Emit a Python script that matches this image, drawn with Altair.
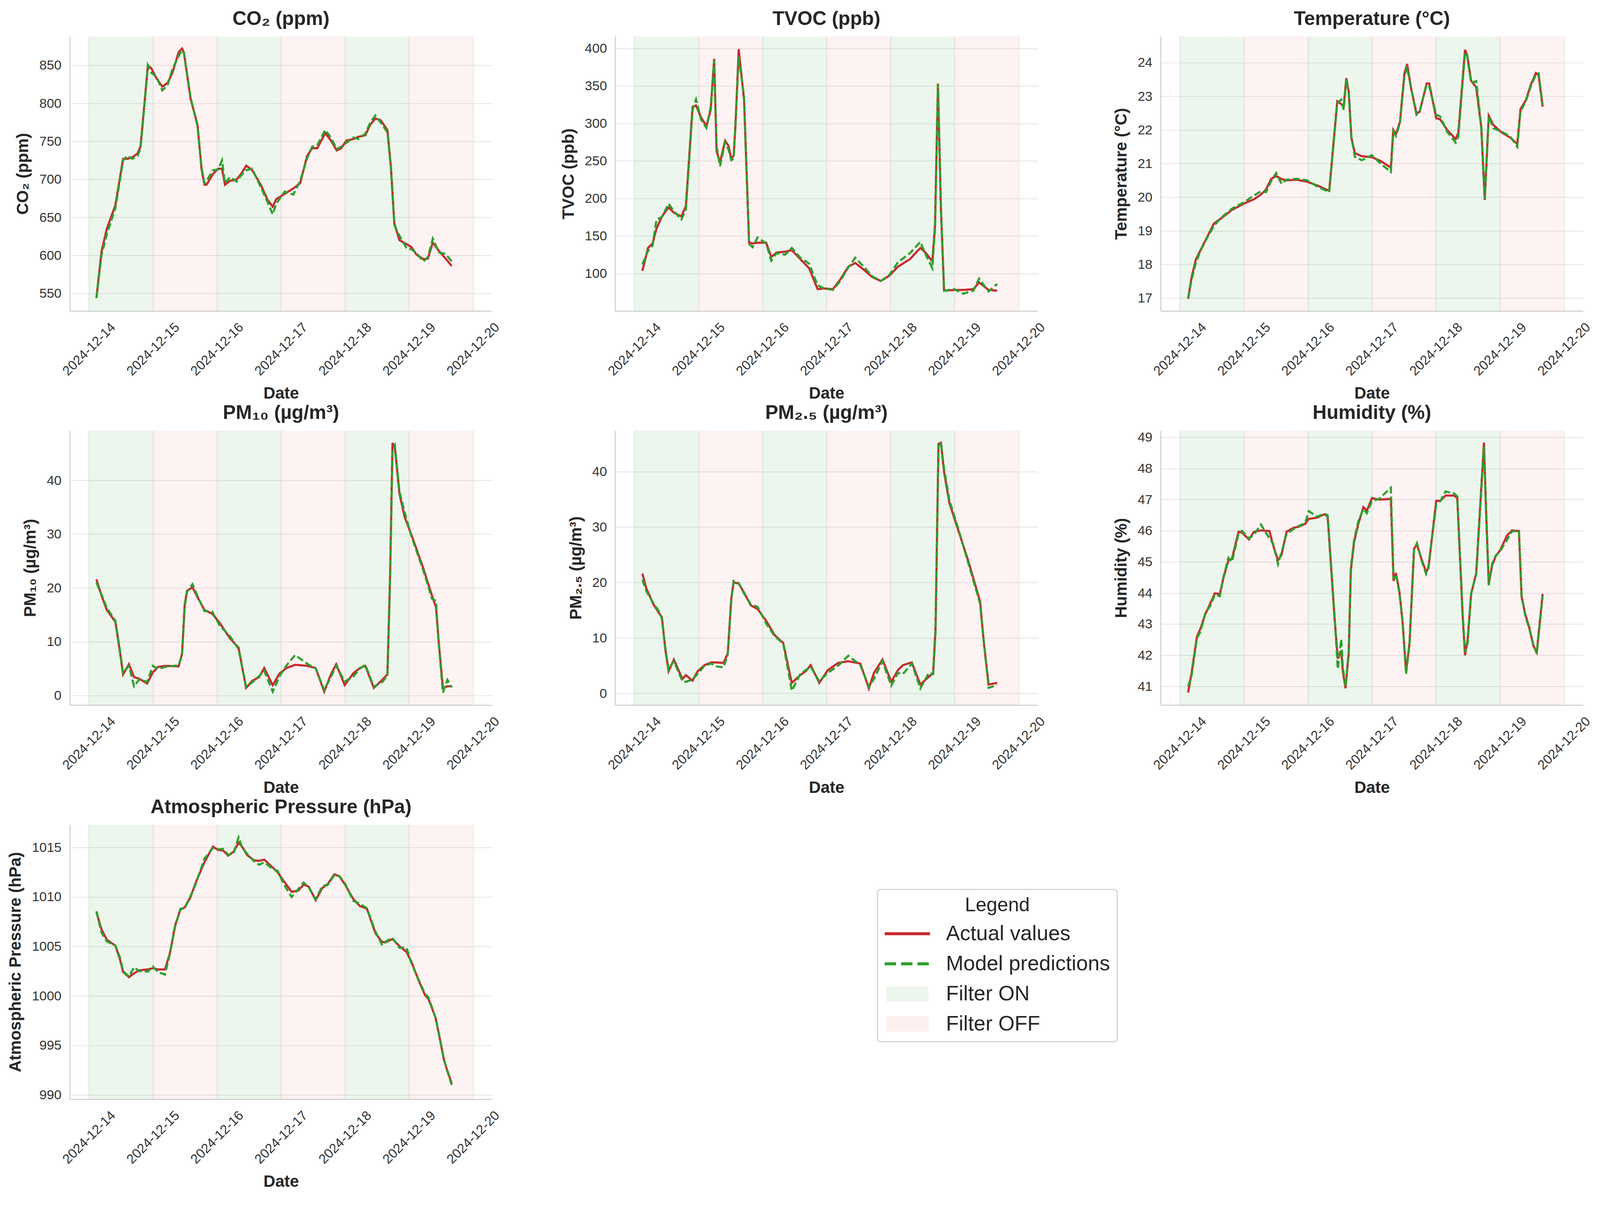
import altair as alt
import pandas as pd

START = pd.Timestamp("2024-12-14 00:00")

# hours after 2024-12-14 00:00, actual values, model predictions
CO2_H = [2.8, 4.7, 6.7, 9.9, 12.8, 14.4, 16.3, 18.2, 19.3, 20.1, 22.1, 23.4, 25.3, 27.5, 29.5, 31.3,
         33.6, 34.9, 35.6, 38.1, 40.7, 42.2, 43.3, 44.1, 46.5, 48.4, 49.9, 51.0, 52.9, 55.4, 57.0, 59.0,
         61.2, 64.4, 67.0, 68.9, 70.2, 73.4, 76.6, 79.2, 81.8, 83.7, 85.6, 88.6, 90.7, 92.9, 94.6, 96.5,
         99.1, 101.0, 103.6, 105.5, 107.4, 109.3, 111.9, 113.2, 114.5, 116.4, 119.0, 120.9, 122.8, 125.4,
         127.1, 128.9, 131.2, 133.7, 136.0]
CO2_ACTUAL = [544, 605, 635, 666, 727, 727, 729, 734, 743, 772, 850, 846, 833, 822, 827, 840,
              867, 872, 867, 806, 772, 714, 693, 693, 707, 714, 714, 693, 698, 700, 707, 718,
              712, 693, 673, 664, 674, 681, 688, 695, 731, 741, 741, 761, 751, 738, 741, 751,
              753, 756, 758, 772, 780, 778, 765, 717, 642, 620, 615, 611, 601, 595,
              596, 617, 606, 596, 586]
CO2_PRED = [544, 600, 628, 662, 725, 731, 727, 731, 740, 770, 850, 840, 835, 817, 824, 845,
            862, 870, 866, 808, 770, 716, 695, 698, 712, 713, 725, 695, 703, 697, 705, 712,
            714, 690, 670, 654, 668, 684, 680, 698, 728, 743, 745, 765, 755, 740, 743, 748,
            755, 753, 760, 775, 784, 775, 762, 715, 640, 626, 610, 608, 603, 592,
            598, 622, 604, 602, 592]

TVOC_H = [3.0, 5.1, 6.8, 8.3, 10.3, 12.8, 14.8, 17.6, 19.3, 21.8, 23.1, 25.0, 27.0, 28.6, 29.9, 30.8,
          32.1, 34.0, 35.3, 36.3, 37.2, 37.9, 39.1, 41.1, 43.0, 44.3, 46.2, 49.4, 51.3, 53.3, 56.5, 59.0,
          62.2, 65.5, 68.7, 71.2, 74.4, 77.0, 80.2, 82.8, 86.0, 89.2, 92.4, 95.6, 98.8, 103.3, 107.2,
          109.1, 111.7, 112.7, 113.8, 114.9, 116.1, 120.0, 123.2, 127.1, 129.2, 132.8, 136.0]
TVOC_ACTUAL = [103.5, 134, 140, 160, 176, 188, 181, 176, 190, 322, 324, 308, 296, 318, 386, 263,
               248, 277, 270, 253, 257, 298, 399, 332, 141, 140, 141, 141, 122, 128, 129, 131,
               119, 107, 79, 80, 79, 91, 109, 114, 105, 95, 90, 97, 109, 119, 134,
               128, 116, 164, 353, 188, 77, 78, 78, 79, 88, 78, 77]
TVOC_PRED = [112, 130, 137, 172, 175, 193, 183, 172, 185, 318, 332, 305, 294, 322, 384, 270,
             243, 275, 265, 251, 253, 300, 389, 336, 139, 135, 148, 140, 117, 127, 125, 134,
             121, 113, 84, 80, 78, 89, 108, 121, 109, 96, 90, 98, 115, 127, 142,
             126, 107, 160, 352, 190, 77, 79, 73, 77, 93, 76, 86]

TEMP_H = [3.1, 4.4, 6.0, 7.7, 9.9, 12.8, 15.6, 19.5, 24.0, 27.8, 30.4, 32.3, 34.2, 36.1, 38.1, 40.0,
          43.8, 47.7, 51.5, 56.0, 57.3, 59.0, 60.5, 61.4, 62.4, 63.3, 64.3, 65.6, 68.2, 72.0, 75.2,
          79.1, 80.0, 81.0, 82.5, 84.2, 85.2, 86.7, 88.7, 89.9, 92.5, 93.5, 96.1, 97.6, 100.2, 103.4,
          104.4, 106.9, 107.7, 109.2, 111.1, 113.0, 114.3, 115.8, 117.5, 120.7, 123.9, 126.5, 127.7,
          129.7, 131.6, 133.5, 134.5, 136.0]
TEMP_ACTUAL = [16.98, 17.62, 18.15, 18.42, 18.77, 19.22, 19.38, 19.62, 19.81, 19.94, 20.08, 20.23,
               20.54, 20.63, 20.54, 20.50, 20.52, 20.46, 20.35, 20.19, 21.35, 22.85, 22.77, 22.69,
               23.54, 23.15, 21.77, 21.31, 21.22, 21.19, 21.08, 20.88, 22.00, 21.88, 22.23, 23.69,
               23.96, 23.23, 22.50, 22.54, 23.38, 23.38, 22.35, 22.31, 22.00, 21.73, 21.92, 24.38,
               24.23, 23.46, 23.27, 22.08, 19.92, 22.42, 22.15, 21.92, 21.77, 21.58, 22.62, 22.88,
               23.35, 23.69, 23.62, 22.69]
TEMP_PRED = [17.00, 17.55, 18.05, 18.40, 18.75, 19.15, 19.40, 19.66, 19.85, 20.05, 20.18, 20.15,
             20.48, 20.72, 20.40, 20.52, 20.55, 20.50, 20.32, 20.15, 21.30, 22.80, 22.90, 22.60,
             23.50, 23.10, 21.80, 21.20, 21.10, 21.25, 21.00, 20.75, 21.95, 21.82, 22.20, 23.62,
             23.85, 23.25, 22.45, 22.55, 23.35, 23.30, 22.45, 22.40, 21.95, 21.62, 21.80, 24.30,
             24.20, 23.40, 23.45, 22.10, 19.95, 22.40, 22.05, 21.95, 21.80, 21.50, 22.55, 22.85,
             23.30, 23.65, 23.68, 22.75]

PM10_H = [2.8, 4.7, 6.7, 9.9, 11.6, 12.8, 15.0, 16.9, 18.9, 21.8, 24.0, 25.9, 28.5, 33.6, 34.9, 35.9,
          36.8, 38.8, 40.7, 43.3, 46.2, 49.0, 52.9, 56.1, 58.9, 61.2, 63.8, 65.7, 68.9, 71.5, 74.1,
          77.3, 81.8, 85.0, 88.2, 90.7, 92.7, 95.9, 99.1, 101.6, 103.6, 106.8, 110.0, 111.9, 112.9,
          113.8, 114.7, 116.4, 118.3, 120.9, 125.4, 128.6, 130.1, 131.2, 132.7, 134.4, 136.0]
PM10_ACTUAL = [21.6, 18.6, 15.9, 13.7, 8.2, 3.9, 5.8, 3.4, 3.1, 2.2, 4.3, 5.3, 5.5, 5.4, 7.7, 16.9,
               19.5, 20.1, 18.3, 15.9, 15.2, 13.5, 10.6, 8.9, 1.4, 2.7, 3.4, 5.1, 1.9, 4.1, 5.1,
               5.7, 5.5, 5.1, 0.7, 3.9, 5.8, 1.9, 4.1, 5.1, 5.5, 1.4, 2.9, 3.9, 22.2,
               47.0, 46.0, 37.6, 33.3, 29.9, 23.6, 18.6, 16.4, 9.6, 1.4, 1.7, 1.7]
PM10_PRED = [21.0, 18.8, 16.3, 13.9, 8.5, 4.2, 5.5, 1.7, 3.0, 2.5, 5.5, 4.9, 5.3, 5.6, 7.5, 16.5,
             19.3, 20.7, 18.5, 15.7, 15.6, 13.0, 11.0, 8.6, 1.6, 2.4, 3.6, 4.6, 0.7, 3.6, 5.6,
             7.5, 5.9, 5.0, 1.0, 3.4, 5.5, 2.6, 3.5, 5.0, 5.7, 1.6, 2.5, 3.7, 21.5,
             45.5, 46.5, 38.0, 34.2, 29.6, 23.2, 18.0, 17.6, 9.2, 0.5, 2.9, 1.5]

PM25_H = [3.0, 4.5, 7.1, 9.6, 10.3, 11.6, 12.8, 14.8, 18.0, 19.3, 21.8, 23.7, 26.3, 28.9, 30.2, 33.4,
          35.0, 36.3, 37.2, 39.1, 41.1, 43.6, 46.2, 49.4, 52.6, 55.8, 59.0, 62.2, 64.2, 66.1, 69.3,
          72.5, 76.4, 80.2, 84.7, 87.9, 89.8, 93.0, 96.3, 98.8, 100.7, 104.0, 107.2, 110.4, 112.0,
          112.9, 114.0, 114.9, 116.1, 118.1, 121.3, 125.1, 129.6, 130.9, 132.8, 136.0]
PM25_ACTUAL = [21.6, 18.9, 16.1, 14.2, 13.8, 7.9, 4.0, 6.1, 2.6, 3.3, 2.3, 4.0, 5.1, 5.6, 5.6, 5.5,
               7.2, 17.0, 20.0, 19.8, 18.2, 15.9, 15.2, 13.1, 10.5, 9.1, 1.9, 3.3, 4.0, 5.1, 1.9,
               4.2, 5.5, 5.8, 5.4, 0.9, 3.7, 6.1, 2.1, 4.2, 5.1, 5.6, 1.6, 3.0, 3.7,
               11.9, 45.0, 45.2, 39.9, 34.3, 29.6, 24.0, 16.6, 9.6, 1.6, 1.9]
PM25_PRED = [20.5, 18.4, 16.3, 14.5, 13.4, 8.2, 4.3, 5.8, 2.2, 2.1, 2.5, 3.5, 5.0, 5.4, 4.9, 4.7,
             7.0, 16.6, 20.3, 19.9, 18.0, 16.1, 15.6, 12.6, 10.3, 9.0, 0.5, 3.5, 4.2, 4.8, 2.2,
             3.7, 5.0, 6.8, 5.1, 1.2, 2.6, 5.8, 1.4, 3.7, 3.5, 5.4, 0.9, 3.7, 3.5,
             11.0, 44.5, 45.3, 40.5, 34.8, 29.9, 23.6, 16.2, 9.9, 1.0, 1.5]

HUM_H = [3.1, 4.4, 6.4, 7.7, 9.5, 11.5, 13.1, 15.0, 16.3, 18.2, 19.5, 22.0, 23.3, 25.9, 27.8, 30.4,
         33.6, 34.9, 36.8, 38.1, 40.0, 42.5, 44.5, 47.0, 48.3, 51.5, 54.1, 55.4, 57.9, 59.2, 60.5,
         61.1, 62.1, 63.3, 64.1, 65.3, 66.9, 68.8, 70.1, 72.0, 74.6, 79.1, 80.1, 81.0, 82.3, 83.5,
         84.8, 86.1, 87.8, 88.9, 90.6, 92.3, 93.2, 96.1, 97.6, 99.6, 102.8, 104.0, 106.0, 106.9,
         107.9, 109.2, 111.1, 114.0, 114.9, 115.8, 117.1, 118.4, 120.1, 122.6, 124.5, 127.1, 128.1,
         129.4, 131.0, 132.5, 133.8, 136.0]
HUM_ACTUAL = [40.80, 41.44, 42.60, 42.85, 43.31, 43.68, 43.99, 43.97, 44.47, 45.05, 45.09, 45.97,
              45.94, 45.72, 45.97, 46.01, 45.99, 45.55, 45.05, 45.22, 45.97, 46.09, 46.13, 46.22,
              46.38, 46.42, 46.53, 46.46, 43.31, 41.89, 42.14, 41.48, 40.94, 42.06, 44.72, 45.63,
              46.22, 46.76, 46.64, 47.05, 47.00, 47.02, 44.39, 44.64, 44.05, 43.06, 41.48, 42.39,
              45.43, 45.55, 45.09, 44.68, 44.80, 46.96, 46.96, 47.13, 47.13, 47.05, 43.31, 42.00,
              42.52, 43.97, 44.64, 48.83, 46.38, 44.30, 44.89, 45.18, 45.38, 45.84, 46.01, 45.99,
              43.89, 43.35, 42.89, 42.31, 42.10, 43.97]
HUM_PRED = [41.00, 41.35, 42.55, 42.75, 43.35, 43.60, 43.95, 43.90, 44.50, 45.13, 45.00, 45.90,
            46.00, 45.75, 45.88, 46.20, 45.75, 45.60, 44.93, 45.30, 45.90, 46.05, 46.15, 46.25,
            46.63, 46.45, 46.55, 46.50, 43.40, 41.56, 42.52, 41.60, 41.00, 42.10, 44.80, 45.70,
            46.30, 46.70, 46.56, 46.95, 47.02, 47.38, 44.45, 44.60, 44.00, 43.10, 41.40, 42.35,
            45.40, 45.60, 45.05, 44.62, 44.85, 46.85, 46.95, 47.26, 47.20, 47.10, 43.35, 42.10,
            42.40, 44.00, 44.60, 48.70, 46.40, 44.25, 44.95, 45.20, 45.35, 45.70, 45.98, 46.00,
            43.95, 43.30, 42.85, 42.35, 42.05, 43.90]

PRES_H = [2.8, 4.7, 6.7, 9.9, 11.6, 12.8, 15.0, 16.9, 18.9, 22.1, 24.0, 25.9, 28.5, 30.4, 32.3, 34.3,
          35.9, 38.1, 40.0, 43.3, 46.5, 48.4, 50.3, 52.2, 54.2, 56.1, 57.4, 59.3, 61.9, 63.8, 65.7,
          68.3, 70.8, 72.8, 76.0, 78.5, 80.5, 82.4, 85.0, 87.5, 89.5, 92.0, 93.9, 95.9, 99.1, 101.6,
          104.2, 107.4, 110.0, 111.9, 113.8, 116.4, 119.0, 120.9, 123.5, 126.0, 127.3, 129.9, 131.2,
          133.1, 134.0, 136.0]
PRES_ACTUAL = [1008.47, 1006.72, 1005.67, 1005.07, 1003.71, 1002.41, 1001.89, 1002.28, 1002.59,
               1002.67, 1002.80, 1002.67, 1002.67, 1004.37, 1007.11, 1008.73, 1008.94, 1009.98,
               1011.42, 1013.51, 1015.08, 1014.74, 1014.69, 1014.16, 1014.56, 1015.47, 1015.08,
               1014.22, 1013.69, 1013.64, 1013.77, 1013.12, 1012.47, 1011.68, 1010.51, 1010.64,
               1011.24, 1011.03, 1009.67, 1010.90, 1011.29, 1012.28, 1012.07, 1011.29, 1009.78,
               1009.07, 1008.81, 1006.33, 1005.41, 1005.49, 1005.75, 1005.02, 1004.45, 1003.45,
               1001.62, 1000.06, 999.67, 997.84, 996.14, 993.53, 992.74, 991.18]
PRES_PRED = [1008.55, 1006.40, 1005.50, 1005.10, 1003.90, 1002.50, 1001.95, 1002.88, 1002.50,
             1002.45, 1002.95, 1002.40, 1002.15, 1004.30, 1007.00, 1008.80, 1008.85, 1010.10,
             1011.30, 1013.85, 1014.95, 1014.80, 1014.85, 1014.25, 1014.40, 1016.00, 1015.00,
             1014.35, 1013.60, 1013.25, 1013.50, 1012.95, 1012.60, 1011.40, 1009.98, 1010.80,
             1011.45, 1010.95, 1009.75, 1011.10, 1011.20, 1012.20, 1012.10, 1011.40, 1009.60,
             1009.30, 1008.85, 1006.50, 1005.10, 1005.60, 1005.85, 1004.85, 1004.89, 1003.30,
             1001.70, 1000.20, 999.85, 997.80, 996.20, 993.60, 992.70, 991.00]

# filter periods (one per day)
BAND_DAYS = ["2024-12-14", "2024-12-15", "2024-12-16", "2024-12-17", "2024-12-18", "2024-12-19"]
BAND_STATE = ["ON", "OFF", "ON", "OFF", "ON", "OFF"]
TICK_DAYS = [14, 15, 16, 17, 18, 19, 20]
LEGEND_KEYS = ["Actual values", "Model predictions", "Filter ON", "Filter OFF"]

RED = "#c8282d"
GREEN = "#2ca02c"
ON_FILL = "rgba(0,128,0,0.07)"
OFF_FILL = "rgba(220,30,20,0.055)"
FONT = "Liberation Sans"

band_df = pd.DataFrame({"start": pd.to_datetime(BAND_DAYS), "state": BAND_STATE})
band_df["end"] = band_df["start"] + pd.Timedelta(days=1)

xscale = alt.Scale(domain=[alt.DateTime(year=2024, month=12, date=13, hours=16, minutes=48),
                           alt.DateTime(year=2024, month=12, date=20, hours=7, minutes=12)])
xaxis = alt.Axis(title="Date", format="%Y-%m-%d",
                 values=[alt.DateTime(year=2024, month=12, date=d) for d in TICK_DAYS],
                 labelAngle=-45, labelAlign="center", labelBaseline="middle",
                 labelPadding=100, titlePadding=20)


def panel(title, hours, actual, pred, ydomain, yticks):
    df = pd.DataFrame({"time": START + pd.to_timedelta(hours, unit="h"),
                       "actual": actual, "pred": pred})
    yscale = alt.Scale(domain=ydomain, nice=False, zero=False)
    yaxis = alt.Axis(title=title, values=yticks, format="d", labelPadding=22, titlePadding=20)
    bands = alt.Chart(band_df).mark_rect().encode(
        x=alt.X("start:T", scale=xscale, axis=xaxis),
        x2="end:T",
        fill=alt.Fill("state:N", scale=alt.Scale(domain=["ON", "OFF"], range=[ON_FILL, OFF_FILL]),
                      legend=None),
    )
    actual_line = alt.Chart(df).mark_line(color=RED, strokeWidth=5.5).encode(
        x=alt.X("time:T", scale=xscale, axis=xaxis),
        y=alt.Y("actual:Q", scale=yscale, axis=yaxis),
    )
    pred_line = alt.Chart(df).mark_line(color=GREEN, strokeWidth=5.5, strokeDash=[18, 8]).encode(
        x=alt.X("time:T", scale=xscale, axis=xaxis),
        y=alt.Y("pred:Q", scale=yscale, axis=yaxis),
    )
    return alt.layer(bands, actual_line, pred_line).properties(
        width=1110, height=721,
        title=alt.TitleParams(title, frame="group", baseline="bottom", offset=-32),
    )


# legend symbols: short lines for the series, stacked strokes for the filter swatches
LINE_PATH = "M-8.5,0H8.5"
BOX_PATH = "M-7.9,-2.286H7.9M-7.9,-1.143H7.9M-7.9,0H7.9M-7.9,1.143H7.9M-7.9,2.286H7.9"
leg = alt.Legend(title="Legend", orient="none", legendX=2122, legendY=2240)
legend_layer = alt.Chart(pd.DataFrame({"key": LEGEND_KEYS})).mark_point(
    filled=False, opacity=1, strokeWidth=8
).encode(
    color=alt.Color("key:N", scale=alt.Scale(domain=LEGEND_KEYS,
                                             range=[RED, GREEN, "#edf6ed", "#fdf1f0"]), legend=leg),
    strokeDash=alt.StrokeDash("key:N", scale=alt.Scale(domain=LEGEND_KEYS,
                                                       range=[[1, 0], [30, 13], [1, 0], [1, 0]]),
                              legend=leg),
    shape=alt.Shape("key:N", scale=alt.Scale(domain=LEGEND_KEYS,
                                             range=[LINE_PATH, LINE_PATH, BOX_PATH, BOX_PATH]),
                    legend=leg),
).transform_filter("false")

p_co2 = panel("CO₂ (ppm)", CO2_H, CO2_ACTUAL, CO2_PRED, [527, 888], [550, 600, 650, 700, 750, 800, 850])
p_co2 = alt.layer(p_co2, legend_layer)
p_tvoc = panel("TVOC (ppb)", TVOC_H, TVOC_ACTUAL, TVOC_PRED, [50, 416], [100, 150, 200, 250, 300, 350, 400])
p_temp = panel("Temperature (°C)", TEMP_H, TEMP_ACTUAL, TEMP_PRED, [16.62, 24.78], [17, 18, 19, 20, 21, 22, 23, 24])
p_pm10 = panel("PM₁₀ (µg/m³)", PM10_H, PM10_ACTUAL, PM10_PRED, [-1.8, 49.3], [0, 10, 20, 30, 40])
p_pm25 = panel("PM₂.₅ (µg/m³)", PM25_H, PM25_ACTUAL, PM25_PRED, [-2.1, 47.4], [0, 10, 20, 30, 40])
p_hum = panel("Humidity (%)", HUM_H, HUM_ACTUAL, HUM_PRED, [40.4, 49.22], [41, 42, 43, 44, 45, 46, 47, 48, 49])
p_pres = panel("Atmospheric Pressure (hPa)", PRES_H, PRES_ACTUAL, PRES_PRED, [989.56, 1017.3],
               [990, 995, 1000, 1005, 1010, 1015])

chart = alt.concat(
    p_co2, p_tvoc, p_temp, p_pm10, p_pm25, p_hum, p_pres,
    columns=3, bounds="flush", spacing={"row": 314, "column": 323},
).properties(
    padding={"left": 12, "top": -24, "right": 10, "bottom": 0}
).configure_view(
    strokeWidth=0
).configure_title(
    font=FONT, fontSize=51, fontWeight="bold", color="#262626", anchor="middle"
).configure_axis(
    labelFont=FONT, labelFontSize=35, labelColor="#333333",
    titleFont=FONT, titleFontSize=43, titleFontWeight="bold", titleColor="#262626",
    ticks=False, grid=True, gridColor="#e4e4e4", gridWidth=2,
    domain=True, domainColor="#cccccc", domainWidth=2.5,
    labelOverlap=False, labelFlush=False,
).configure_legend(
    labelFont=FONT, labelFontSize=55, labelColor="#262626", labelLimit=1000, labelOffset=74,
    titleFont=FONT, titleFontSize=51, titleFontWeight="normal", titleColor="#262626",
    titleAnchor="middle", titlePadding=20, titleLimit=1000,
    symbolSize=196, symbolStrokeWidth=8, symbolOffset=33, symbolOpacity=1,
    rowPadding=23, clipHeight=55, padding=18,
    fillColor="white", strokeColor="#cccccc", strokeWidth=2.5, cornerRadius=8,
)

chart.save("out.html", embed_options={"renderer": "svg", "actions": False})
